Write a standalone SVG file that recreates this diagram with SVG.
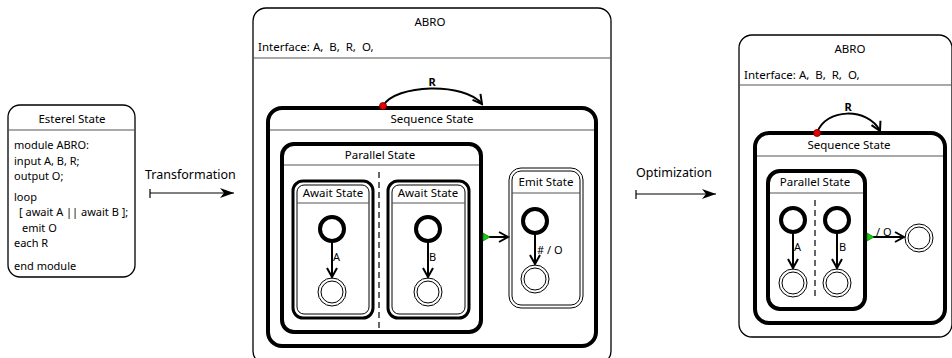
<svg xmlns="http://www.w3.org/2000/svg" width="952" height="358" viewBox="0 0 952 358">
  <style>
    text { font-family: "Noto Sans", "Open Sans", "DejaVu Sans", sans-serif; font-size: 11.5px; fill: #000; }
    .mid { text-anchor: middle; }
    .pre { white-space: pre; }
    .src { font-size: 11px; }
    .step { font-size: 12.5px; }
    .lbl { font-size: 11px; }
    .bold { font-weight: bold; }
    .box { fill: #fff; stroke: #000; stroke-width: 1.3; }
    .thick { fill: #fff; stroke: #000; stroke-width: 4; }
    .await { fill: #fff; stroke: #000; stroke-width: 3; }
    .thin { fill: none; stroke: #000; stroke-width: 1; }
    .sep { stroke: #555; stroke-width: 1.2; }
    .init { fill: #fff; stroke: #000; stroke-width: 4; }
    .fin { fill: #fff; stroke: #000; stroke-width: 1; }
    .dash { stroke: #000; stroke-width: 1.2; stroke-dasharray: 6 4; }
    .edge { fill: none; stroke: #000; stroke-width: 2; marker-end: url(#chev); }
    .flow { fill: none; stroke: #000; stroke-width: 1.2; marker-end: url(#stealth); }
    .reset { fill: #e00; stroke: #600; stroke-width: 0.8; }
    .norm { fill: #1c1; stroke: #060; stroke-width: 0.6; }
  </style>
  <defs>
    <marker id="chev" viewBox="-11 -7 13 14" refX="0" refY="0" markerWidth="13" markerHeight="14" markerUnits="userSpaceOnUse" orient="auto">
      <path d="M -9 -5 L 0 0 L -9 5" fill="none" stroke="#000" stroke-width="2"/>
    </marker>
    <marker id="stealth" viewBox="-16 -6 17 12" refX="0" refY="0" markerWidth="17" markerHeight="12" markerUnits="userSpaceOnUse" orient="auto">
      <path d="M 0 0 L -14 -5 L -10 0 L -14 5 Z" fill="#000"/>
    </marker>
  </defs>

  <!-- Esterel source -->
  <g id="esterel">
    <rect class="box" x="8" y="105" width="127" height="172" rx="12"/>
    <line class="sep" x1="8" y1="130" x2="135" y2="130"/>
    <text class="mid" x="72" y="123">Esterel State</text>
    <text class="src" x="14" y="149">module ABRO:</text>
    <text class="src" x="14" y="165">input A, B, R;</text>
    <text class="src" x="14" y="180">output O;</text>
    <text class="src" x="14" y="201">loop</text>
    <text class="src" x="19" y="216">[ await A || await B ];</text>
    <text class="src" x="22" y="232">emit O</text>
    <text class="src" x="14" y="247">each R</text>
    <text class="src" x="14" y="270">end module</text>
  </g>

  <!-- Step labels -->
  <g id="transformation">
    <text class="step" x="145" y="179">Transformation</text>
  </g>
  <g id="optimization">
    <text class="step" x="636" y="177">Optimization</text>
  </g>

  <!-- Transformed SCChart -->
  <g id="abro1">
    <rect class="box" x="253" y="8" width="358" height="356" rx="13"/>
    <line class="sep" x1="253" y1="58" x2="611" y2="58"/>
    <text class="mid" x="430" y="26">ABRO</text>
    <text class="pre" x="258" y="51">Interface: A,  B,  R,  O,</text>
  </g>
  <g id="seq1">
    <rect class="thick" x="268" y="108" width="328" height="238" rx="14"/>
    <line class="sep" x1="270" y1="130" x2="594" y2="130"/>
    <text class="mid" x="432" y="123">Sequence State</text>
  </g>
  <g id="par1">
    <rect class="thick" x="282" y="144" width="199" height="188" rx="12"/>
    <line class="sep" x1="284" y1="165" x2="479" y2="165"/>
    <text class="mid" x="380" y="159">Parallel State</text>
    <line class="dash" x1="379" y1="172" x2="379" y2="328"/>
  </g>
  <g id="awaitA">
    <rect class="await" x="293" y="181" width="80" height="137" rx="10"/>
    <rect class="thin" x="297" y="185" width="72" height="129" rx="7"/>
    <line class="sep" x1="297" y1="203" x2="369" y2="203"/>
    <text class="mid" x="333" y="197">Await State</text>
    <circle class="init" cx="332" cy="229" r="12"/>
    <circle class="fin" cx="332" cy="292" r="14"/>
    <circle class="fin" cx="332" cy="292" r="11"/>
  </g>
  <g id="awaitB">
    <rect class="await" x="388" y="181" width="81" height="137" rx="10"/>
    <rect class="thin" x="392" y="185" width="73" height="129" rx="7"/>
    <line class="sep" x1="392" y1="203" x2="465" y2="203"/>
    <text class="mid" x="428" y="197">Await State</text>
    <circle class="init" cx="428" cy="229" r="12"/>
    <circle class="fin" cx="428" cy="292" r="14"/>
    <circle class="fin" cx="428" cy="292" r="11"/>
  </g>
  <g id="emit1">
    <rect class="thin" x="509" y="168" width="74" height="140" rx="12"/>
    <rect class="thin" x="512" y="171" width="68" height="134" rx="9"/>
    <line class="sep" x1="512" y1="193" x2="580" y2="193"/>
    <text class="mid" x="546" y="186">Emit State</text>
    <circle class="init" cx="535" cy="221" r="12"/>
    <circle class="fin" cx="535" cy="279" r="14"/>
    <circle class="fin" cx="535" cy="279" r="11"/>
  </g>

  <!-- Optimized SCChart -->
  <g id="abro2">
    <rect class="box" x="739" y="35" width="213" height="302" rx="13"/>
    <line class="sep" x1="739" y1="85" x2="952" y2="85"/>
    <text class="mid" x="850" y="53">ABRO</text>
    <text class="pre" x="744" y="79">Interface: A,  B,  R,  O,</text>
  </g>
  <g id="seq2">
    <rect class="thick" x="755" y="133" width="190" height="190" rx="14"/>
    <line class="sep" x1="757" y1="156" x2="943" y2="156"/>
    <text class="mid" x="849" y="149">Sequence State</text>
  </g>
  <g id="par2">
    <rect class="thick" x="768" y="171" width="97" height="138" rx="12"/>
    <line class="sep" x1="770" y1="193" x2="863" y2="193"/>
    <text class="mid" x="815" y="186">Parallel State</text>
    <line class="dash" x1="815" y1="200" x2="815" y2="300"/>
    <circle class="init" cx="793" cy="220" r="12"/>
    <circle class="fin" cx="793" cy="283" r="14"/>
    <circle class="fin" cx="793" cy="283" r="11"/>
    <circle class="init" cx="837" cy="220" r="12"/>
    <circle class="fin" cx="837" cy="283" r="14"/>
    <circle class="fin" cx="837" cy="283" r="11"/>
  </g>
  <g id="done2">
    <circle class="fin" cx="919" cy="238" r="14"/>
    <circle class="fin" cx="919" cy="238" r="11"/>
  </g>

  <!-- Connectors -->
  <g id="connectors">
    <path class="flow" d="M 150 193 L 234 193"/>
    <line x1="150" y1="189" x2="150" y2="198" stroke="#000" stroke-width="1.2"/>
    <path class="flow" d="M 636 194 L 716 194"/>
    <line x1="636" y1="190" x2="636" y2="199" stroke="#000" stroke-width="1.2"/>

    <path class="edge" d="M 383 106 C 395 84, 465 82, 482 104"/>
    <circle class="reset" cx="383" cy="106" r="3.5"/>
    <text class="mid lbl bold" x="432" y="86">R</text>

    <path class="edge" d="M 332 242 L 332 277"/>
    <text class="lbl" x="333" y="261">A</text>
    <path class="edge" d="M 428 242 L 428 277"/>
    <text class="lbl" x="429" y="261">B</text>

    <path class="edge" d="M 489 237 L 508 237"/>
    <polygon class="norm" points="483,233 490,237 483,241"/>

    <path class="edge" d="M 535 234 L 535 264"/>
    <text class="lbl pre" x="537" y="254"># / O</text>

    <path class="edge" d="M 817 133 C 825 108, 868 107, 880 131"/>
    <circle class="reset" cx="817" cy="133" r="3.5"/>
    <text class="mid lbl bold" x="848" y="111">R</text>

    <path class="edge" d="M 793 233 L 793 268"/>
    <text class="lbl" x="794" y="251">A</text>
    <path class="edge" d="M 837 233 L 837 268"/>
    <text class="lbl" x="839" y="251">B</text>

    <path class="edge" d="M 873 237 L 904 237"/>
    <polygon class="norm" points="867,233 874,237 867,241"/>
    <text class="lbl" x="876" y="236">/ O</text>
  </g>
</svg>
